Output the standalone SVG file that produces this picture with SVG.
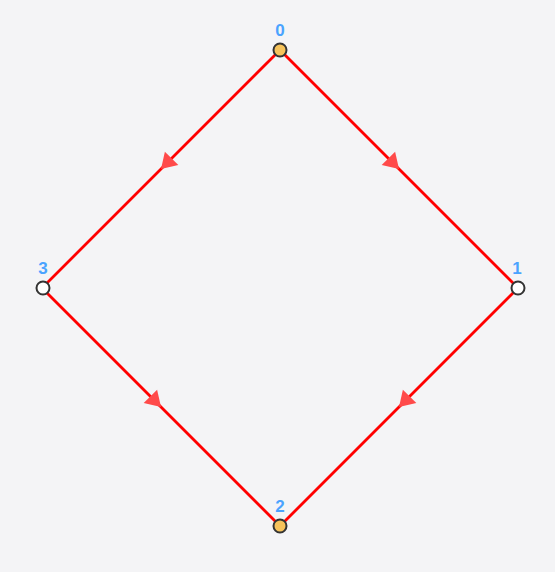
<svg xmlns="http://www.w3.org/2000/svg" width="555" height="572" viewBox="0 0 555 572">
  <style>
    .edge { fill: none; stroke: #ff0000; stroke-width: 2.8; marker-mid: url(#arrow); }
    .node { stroke: #333333; stroke-width: 2; }
    .src { fill: #f6c35b; }
    .plain { fill: #ffffff; }
    .label { font-family: "Liberation Sans", Arial, sans-serif; font-size: 17px; font-weight: bold; fill: #4aa3ff; text-anchor: middle; }
  </style>
  <defs>
    <marker id="arrow" markerUnits="userSpaceOnUse" viewBox="-16 -11 32 22" markerWidth="32" markerHeight="22" refX="0" refY="0" orient="auto">
      <path d="M0,0 L-15,-9.5 L-15,9.5 Z" fill="#ff4a4a"/>
    </marker>
  </defs>
  <rect x="0" y="0" width="555" height="572" fill="#f4f4f6"/>
  <g id="connectors">
    <path class="edge" d="M280,50 L161,169 L42,288"/>
    <path class="edge" d="M280,50 L399,169 L518,288"/>
    <path class="edge" d="M42,288 L161,407 L280,526"/>
    <path class="edge" d="M518,288 L399,407 L280,526"/>
  </g>
  <g id="node0">
    <circle class="node src" cx="280" cy="50" r="6.5"/>
    <text class="label" x="280" y="36">0</text>
  </g>
  <g id="node1">
    <circle class="node plain" cx="518" cy="288" r="6.5"/>
    <text class="label" x="517" y="274">1</text>
  </g>
  <g id="node2">
    <circle class="node src" cx="280" cy="526" r="6.5"/>
    <text class="label" x="280" y="511.5">2</text>
  </g>
  <g id="node3">
    <circle class="node plain" cx="43" cy="288" r="6.5"/>
    <text class="label" x="43" y="273.5">3</text>
  </g>
</svg>
